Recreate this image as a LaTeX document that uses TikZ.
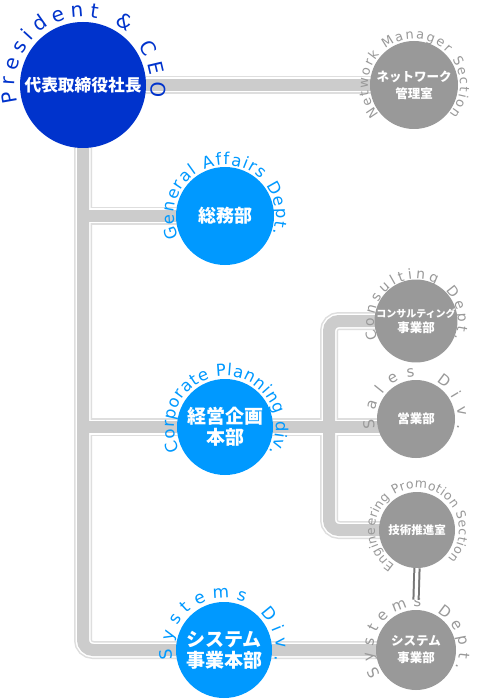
\documentclass[tikz,border=0pt]{standalone}
\usepackage{fontspec}
\setmainfont{DejaVu Sans}
\newfontfamily\jp{Noto Sans CJK JP}
\usetikzlibrary{decorations.text}
\definecolor{presblue}{HTML}{0033CC}
\definecolor{divblue}{HTML}{0099FF}
\definecolor{secgray}{HTML}{999999}
\definecolor{barcore}{HTML}{CCCCCC}
\definecolor{baredge}{HTML}{DEDEDE}
\definecolor{dblgray}{HTML}{777777}
\pgfdeclarelayer{bg}
\pgfsetlayers{bg,main}
\tikzset{
  orgc/.style={circle, inner sep=0pt, text=white, align=center},
  barE/.style={draw=baredge, line width=18pt},
  barW/.style={draw=white, line width=15pt},
  barC/.style={draw=barcore, line width=12pt},
  dblline/.style={draw=dblgray, line width=2pt, double=white, double distance=3.2pt},
}
\newcommand\jpf[2]{\jp\bfseries\fontsize{#1}{#2}\selectfont}
\newcommand\arctext[7]{%
  \path[decorate,decoration={text along path,text color=#5,text align={fit to path},text={|\fontsize{#6}{#6}\selectfont|#7}}]
      ([shift={(#2:#4pt)}]#1.center) arc[start angle=#2,end angle=#3,radius=#4pt];
}
\newcommand\orgbars[1]{%
  \draw[#1] (pres.center) -- (net.center);
  \draw[#1,rounded corners=10pt] (pres.center) |- (sdept.center);
  \draw[#1] (pres.center |- ga.center) -- (ga.center);
  \draw[#1] (pres.center |- cp.center) -- (sal.center |- cp.center);
  \draw[#1,rounded corners=10pt] (con.center) -| (jn) |- (eng.center);
}
\begin{document}
\begin{tikzpicture}[x=1pt,y=1pt]
\useasboundingbox (0,0) rectangle (480,-700);

\node[orgc, fill=presblue, minimum size=126pt, font=\jpf{16.7}{19}] (pres) at (83,-85) {代表取締役社長};
\node[orgc, fill=secgray, minimum size=88pt, font=\jpf{12.5}{17}] (net) at (414,-85) {ネットワーク\\管理室};
\node[orgc, fill=divblue, minimum size=98pt, font=\jpf{18}{20}] (ga) at (225,-216) {総務部};
\node[orgc, fill=divblue, minimum size=96pt, font=\jpf{19}{21}] (cp) at (225,-427) {経営企画\\本部};
\node[orgc, fill=divblue, minimum size=96pt, font=\jpf{19}{21}] (sd) at (224,-650) {システム\\事業本部};
\node[orgc, fill=secgray, minimum size=78pt, font=\jpf{10}{15}] (con) at (416,-321) {コンサルティング\\{\fontsize{12.5}{15}\selectfont 事業部}};
\node[orgc, fill=secgray, minimum size=78pt, font=\jpf{12.5}{15}] (sal) at (416,-419) {営業部};
\node[orgc, fill=secgray, minimum size=76pt, font=\jpf{11.5}{15}] (eng) at (417,-530) {技術推進室};
\node[orgc, fill=secgray, minimum size=80pt, font=\jpf{12.5}{17}] (sdept) at (416,-650) {システム\\事業部};
\coordinate (jn) at (329,-427);

\begin{pgfonlayer}{bg}
  \fill[white] (0,0) rectangle (480,-700);
  \orgbars{barE}
  \orgbars{barW}
  \orgbars{barC}
\end{pgfonlayer}

\arctext{pres}{195}{-10}{68}{presblue}{20}{President {\&} CEO}
\arctext{net}{220}{-40}{46}{secgray}{13}{Network Manager Section}
\arctext{ga}{205}{-20}{51}{divblue}{16.5}{General Affairs Dept.}
\arctext{cp}{207}{-30}{51}{divblue}{16.5}{Corporate Planning div.}
\arctext{sd}{190}{-12}{52}{divblue}{17}{Systems Div.}
\arctext{con}{205}{-25}{42}{secgray}{14}{Consulting Dept.}
\arctext{sal}{193}{-14}{42}{secgray}{15}{Sales Div.}
\arctext{eng}{238}{-43}{42}{secgray}{12.5}{Engineering Promotion Section}
\arctext{sdept}{215}{-25}{43}{secgray}{15}{Systems Dept.}

\draw[dblline] (eng.south) -- ([yshift=10pt]sdept.north);
\end{tikzpicture}
\end{document}
